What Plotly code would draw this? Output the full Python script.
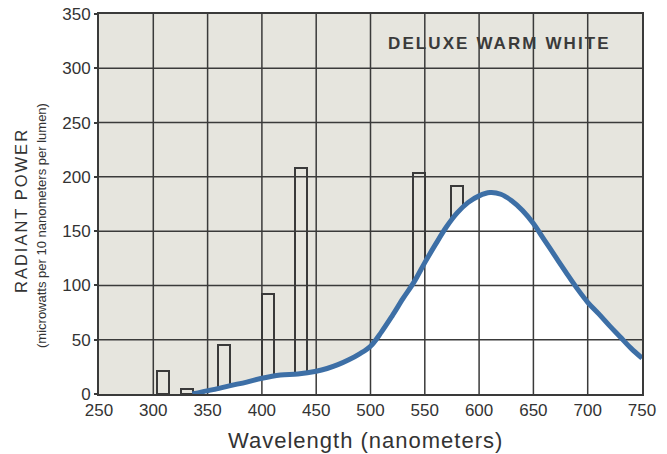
import plotly.graph_objects as go

# ---- data ----
x_ticks = [250, 300, 350, 400, 450, 500, 550, 600, 650, 700, 750]
y_ticks = [0, 50, 100, 150, 200, 250, 300, 350]

# continuous spectrum (nm, radiant power)
curve_nm = [336, 345, 355, 370, 386, 400, 417, 433, 450, 460, 470, 480, 490, 500,
            510, 520, 530, 540, 550, 560, 570, 580, 590, 600, 610, 620, 630,
            640, 650, 660, 670, 680, 690, 700, 710, 720, 730, 740, 750]
curve_power = [0, 2, 4, 7.5, 11, 14.5, 17.5, 18.5, 21, 23.5, 27, 31.5, 37, 44,
               57, 72, 88, 103, 121, 138, 154, 167, 176.5, 182.5, 185.5, 184, 178,
               169, 157, 142, 127, 112, 97.5, 84.5, 74, 63, 52.5, 42, 33]

# mercury emission lines (band centers, nm) and their heights
line_nm = [309, 331, 365, 406, 436, 545, 580]
line_power = [21, 5, 45, 92, 208, 204, 192]
band_width = 11

title_text = "DELUXE WARM WHITE"
x_title = "Wavelength (nanometers)"
y_title1 = "RADIANT POWER"
y_title2 = "(microwatts per 10 nanometers per lumen)"

BG = "#e6e5de"
GRID = "#3a3a3a"
BLUE = "#3d6fa6"
FONT = "Liberation Sans"

fig = go.Figure()

# emission-line bands (outlined rectangles)
fig.add_trace(go.Bar(
    x=line_nm, y=line_power, width=band_width,
    marker=dict(color=BG, line=dict(color=GRID, width=2)),
    hoverinfo="skip", showlegend=False,
))

# white area under the continuous curve
fig.add_trace(go.Scatter(
    x=curve_nm, y=curve_power, mode="lines", fill="tozeroy",
    fillcolor="white", line=dict(width=0, shape="spline", smoothing=1.0),
    hoverinfo="skip", showlegend=False,
))

# grid drawn above the white fill
gx, gy = [], []
for t in x_ticks[1:-1]:
    gx += [t, t, None]
    gy += [y_ticks[0], y_ticks[-1], None]
for t in y_ticks[1:-1]:
    gx += [x_ticks[0], x_ticks[-1], None]
    gy += [t, t, None]
fig.add_trace(go.Scatter(
    x=gx, y=gy, mode="lines", line=dict(color=GRID, width=1.5),
    hoverinfo="skip", showlegend=False,
))

# the blue curve
fig.add_trace(go.Scatter(
    x=curve_nm, y=curve_power, mode="lines",
    line=dict(color=BLUE, width=5, shape="spline", smoothing=1.0),
    showlegend=False,
))

fig.update_layout(
    width=667, height=454,
    margin=dict(l=99, r=25, t=14, b=60, autoexpand=False),
    paper_bgcolor="white", plot_bgcolor=BG,
    font=dict(family=FONT, color="#333333"),
    bargap=0,
    xaxis=dict(
        range=[x_ticks[0], x_ticks[-1]], tickvals=x_ticks,
        showgrid=False, zeroline=False, automargin=False,
        showline=True, linecolor=GRID, linewidth=2, mirror=True,
        ticks="", tickfont=dict(size=17, color="#333333"),
        layer="above traces", fixedrange=True,
    ),
    yaxis=dict(
        range=[y_ticks[0], y_ticks[-1]], tickvals=y_ticks,
        showgrid=False, zeroline=False, automargin=False,
        showline=True, linecolor=GRID, linewidth=2, mirror=True,
        ticks="outside", ticklen=3, tickcolor=GRID, tickwidth=1.5,
        tickfont=dict(size=17, color="#333333"),
        layer="above traces", fixedrange=True,
    ),
    annotations=[
        dict(text=f"<b><span style='letter-spacing:2.1px'>{title_text}</span></b>",
             x=1, y=1, xref="paper", yref="paper",
             xanchor="right", yanchor="middle", xshift=-29, yshift=-29,
             showarrow=False, font=dict(size=17, color="#3a3a3a", family=FONT),
             ),
        dict(text=f"<span style='letter-spacing:2px'>{y_title1}</span>",
             x=0, y=0.5, xref="paper", yref="paper", textangle=-90,
             xanchor="center", yanchor="middle", xshift=-78, yshift=-7,
             showarrow=False, font=dict(size=16.5, color="#333333", family=FONT)),
        dict(text=y_title2,
             x=0, y=0.5, xref="paper", yref="paper", textangle=-90,
             xanchor="center", yanchor="middle", xshift=-58, yshift=-22,
             showarrow=False, font=dict(size=13, color="#333333", family=FONT)),
        dict(text=f"<span style='letter-spacing:1px'>{x_title}</span>",
             x=0.49, y=0, xref="paper", yref="paper",
             xanchor="center", yanchor="middle", yshift=-46,
             showarrow=False, font=dict(size=22, color="#333333", family=FONT)),
    ],
)

fig.write_html("out.html")
